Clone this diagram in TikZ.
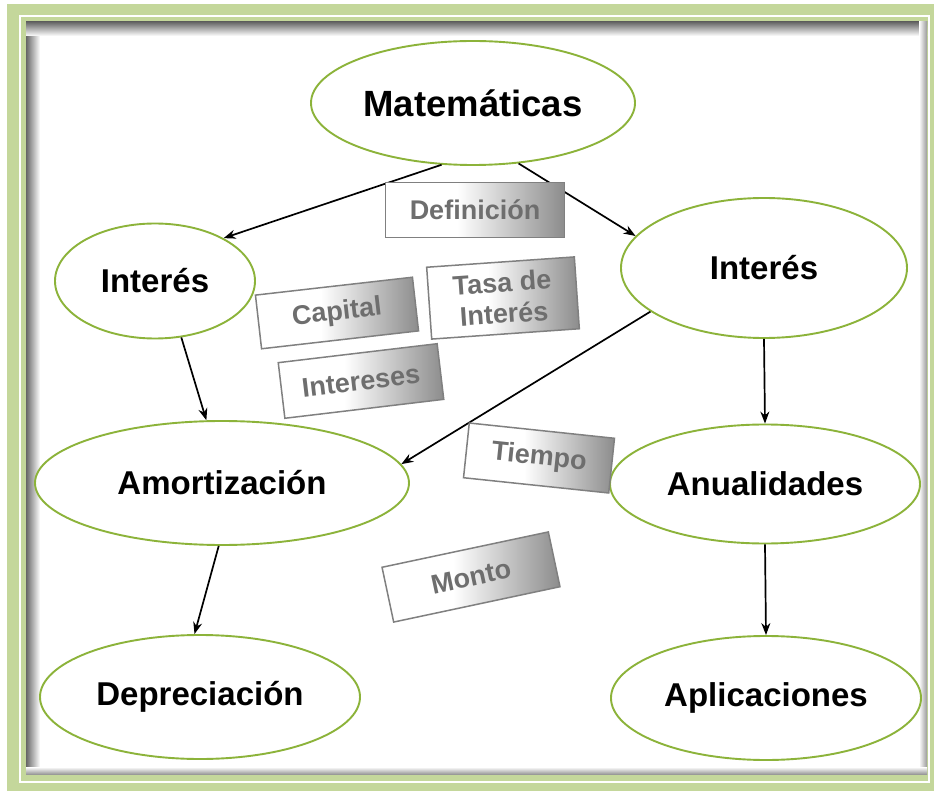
\documentclass[tikz,border=0pt]{standalone}
\usepackage{fontspec}
\setmainfont{Liberation Sans}
\usepackage{tikz}
\usetikzlibrary{arrows.meta,shapes.geometric}
\definecolor{marcoverde}{HTML}{C4D79B}
\definecolor{bordeverde}{HTML}{8CB33A}
\definecolor{textogris}{HTML}{6E6E6E}
\pgfdeclarehorizontalshading{grisderecha}{100bp}{color(0bp)=(white);
  color(25bp)=(white); color(45bp)=(white); color(75bp)=(black!45);
  color(100bp)=(black!45)}
\tikzset{
  concepto/.style = {ellipse, draw=bordeverde, fill=white, line width=1.9pt,
    inner sep=0pt, font=\fontsize{33}{38}\selectfont\bfseries},% elipse verde
  etiqueta/.style = {rectangle, draw=black!50, line width=1.5pt, inner sep=0pt,
    shading=grisderecha, text=textogris, align=center,
    font=\fontsize{27}{31}\selectfont\bfseries},% etiqueta gris
  enlace/.style = {-{Stealth[length=12pt,width=9pt]}, line width=1.7pt}% flecha negra
}

\begin{document}
\begin{tikzpicture}[x=1pt,y=-1pt]
\useasboundingbox (0,0) rectangle (934,791);
% marco
\fill[marcoverde] (7,4) rectangle (934,791);
\draw[white, line width=1.5pt] (20,16) rectangle (929,782);
\fill[white] (26,22) rectangle (927,774);
\shade[left color=black!60, right color=white] (26,22) rectangle (40,774);
\shade[top color=black!60, bottom color=white] (26,22) rectangle (927,36);
\shade[left color=white, right color=black!40] (919,22) rectangle (927,774);
\shade[top color=white, bottom color=black!40] (26,767) rectangle (927,774);

% conceptos
\node[concepto, minimum width=324pt, minimum height=124pt,
  font=\fontsize{36.5}{42}\selectfont\bfseries] (mat) at (473,103) {Matemáticas};
\node[concepto, minimum width=200pt, minimum height=115pt] (intL) at (155,281) {Interés};
\node[concepto, minimum width=286pt, minimum height=140pt] (intR) at (764,268) {Interés};
\node[concepto, minimum width=374pt, minimum height=124pt] (amort) at (222,483) {Amortización};
\node[concepto, minimum width=310pt, minimum height=119pt] (anual) at (765,484) {Anualidades};
\node[concepto, minimum width=320pt, minimum height=124pt] (dep) at (200,697) {Depreciación};
\node[concepto, minimum width=310pt, minimum height=124pt] (apl) at (766,698) {Aplicaciones};

% flechas
\draw[enlace] (mat.243) -- (intL.32);
\draw[enlace] (mat.307) -- (intR.166);
\draw[enlace] (intL.295) -- (amort.104);
\draw[enlace] (intR.201) -- (amort.6);
\draw[enlace] (intR.south) -- (anual.north);
\draw[enlace] (amort.267) -- (dep.95);
\draw[enlace] (anual.south) -- (apl.north);

% etiquetas
\node[etiqueta, minimum width=179pt, minimum height=55pt] (definicion) at (475,210) {Definición};
\node[etiqueta, rotate=6.5, minimum width=158pt, minimum height=54pt] (capital) at (337,313) {Capital};
\node[etiqueta, rotate=4, minimum width=148pt, minimum height=72pt] (tasa) at (503,298) {Tasa de\\Interés};
\node[etiqueta, rotate=6.8, minimum width=160pt, minimum height=56pt] (intereses) at (361,381) {Intereses};
\node[etiqueta, rotate=-6, minimum width=146pt, minimum height=55pt] (tiempo) at (539,458) {Tiempo};
\node[etiqueta, rotate=12, minimum width=170pt, minimum height=56pt] (monto) at (471,577) {Monto};
\end{tikzpicture}
\end{document}
